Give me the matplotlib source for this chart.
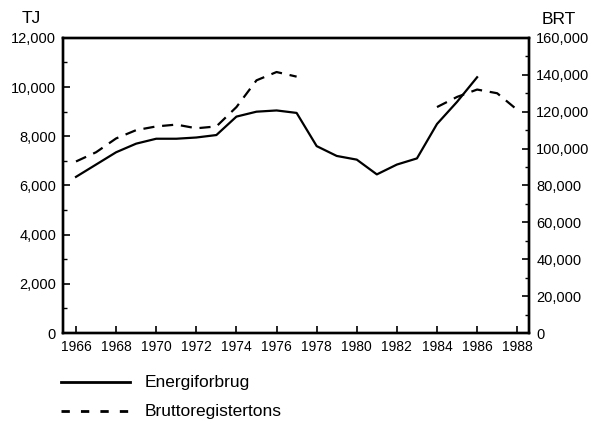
import matplotlib
matplotlib.use("Agg")
import matplotlib.pyplot as plt
from matplotlib.ticker import FuncFormatter, MultipleLocator
from matplotlib.lines import Line2D

plt.rcParams['font.family'] = ['Liberation Sans', 'DejaVu Sans']

# energiforbrug (TJ), left axis
years_energy = [1966, 1967, 1968, 1969, 1970, 1971, 1972, 1973, 1974, 1975, 1976,
                1977, 1978, 1979, 1980, 1981, 1982, 1983, 1984, 1985, 1986]
energy_tj = [6350, 6850, 7350, 7700, 7900, 7900, 7950, 8050, 8800, 9000, 9050,
             8950, 7600, 7200, 7050, 6450, 6850, 7100, 8500, 9400, 10400]

# bruttoregistertons (BRT), right axis, two pieces with a gap
years_brt_a = [1966, 1967, 1968, 1969, 1970, 1971, 1972, 1973, 1974, 1975, 1976, 1977]
brt_a = [93000, 98000, 105500, 110000, 112000, 113000, 111000, 112000, 122500, 137000, 141500, 139000]
years_brt_b = [1984, 1985, 1986, 1987, 1988]
brt_b = [122500, 128000, 132000, 130000, 121000]

year_ticks = list(range(1966, 1989, 2))

fig = plt.figure(figsize=(5.94, 4.24), dpi=100)
ax = fig.add_axes([0.106, 0.2146, 0.785, 0.696])
ax2 = ax.twinx()

ax.plot(years_energy, energy_tj, color='black', lw=1.6)
ax2.plot(years_brt_a, brt_a, color='black', lw=1.6, ls=(0, (5, 3.5)))
ax2.plot(years_brt_b, brt_b, color='black', lw=1.6, ls=(0, (5, 3.5)))

ax.set_xlim(1965.35, 1988.6)
ax.set_ylim(0, 12000)
ax2.set_ylim(0, 160000)

comma = FuncFormatter(lambda v, p: f"{int(v):,}")
ax.yaxis.set_major_locator(MultipleLocator(2000))
ax.yaxis.set_minor_locator(MultipleLocator(1000))
ax.yaxis.set_major_formatter(comma)
ax2.yaxis.set_major_locator(MultipleLocator(20000))
ax2.yaxis.set_minor_locator(MultipleLocator(10000))
ax2.yaxis.set_major_formatter(comma)
ax.set_xticks(year_ticks)
ax.set_xticklabels([str(y) for y in year_ticks])

ax.tick_params(axis='both', direction='in', length=5, width=1.2, labelsize=10.5, pad=5)
ax.tick_params(axis='x', labelsize=10)
ax.tick_params(axis='y', which='minor', direction='in', length=3, width=1)
ax2.tick_params(axis='y', direction='in', length=5, width=1.2, labelsize=10.5, pad=5)
ax2.tick_params(axis='y', which='minor', direction='in', length=3, width=1)
for a in (ax, ax2):
    for s in a.spines.values():
        s.set_linewidth(1.7)

fig.text(0.037, 0.957, "TJ", fontsize=12.5, ha='left', va='center')
fig.text(0.912, 0.955, "BRT", fontsize=12.5, ha='left', va='center')

# legend below the plot
fig.add_artist(Line2D([0.102, 0.219], [0.099, 0.099], color='black', lw=2))
fig.add_artist(Line2D([0.102, 0.219], [0.030, 0.030], color='black', lw=2, ls=(0, (3, 4))))
fig.text(0.244, 0.099, "Energiforbrug", fontsize=12.5, va='center', ha='left')
fig.text(0.244, 0.030, "Bruttoregistertons", fontsize=12.5, va='center', ha='left')

fig.savefig("out.png", dpi=100)
